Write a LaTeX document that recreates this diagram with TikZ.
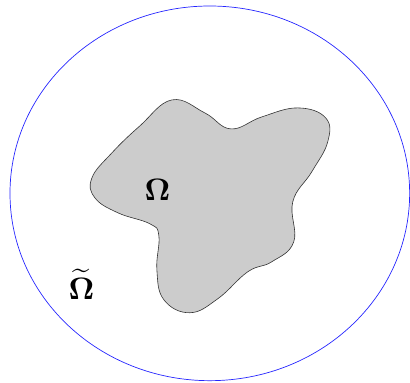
\documentclass[tikz,border=0pt]{standalone}
\usepackage{amsmath}
\usepackage{tikz}

\begin{document}
\begin{tikzpicture}[x=1pt, y=-1pt, line join=round]

  % ── outer domain: blue ellipse, centre (210,193.5) ──
  \draw[blue!85, line width=0.7pt] (210,193.5) ellipse (200 and 187.5);

  % ── inner domain: grey blob through measured outline points ──
  \draw[fill=black!20, draw=black!80, line width=0.6pt]
    plot[smooth cycle, tension=0.7] coordinates {
      (172,100) (205,113) (231,129) (262,117) (298,108) (326,118)
      (328,142) (312,172) (293,202) (294,242) (272,262) (248,272)
      (218,299) (190,313) (164,300) (157,270) (159,236) (150,224)
      (118,213) (95,198) (92,178) (112,153) (140,126)};

  % ── labels ──
  \node[inner sep=0pt, scale=3.1] (inner) at (157.5,190.5) {$\boldsymbol{\Omega}$};
  \node[inner sep=0pt, scale=3.1] (outer) at (81.5,285) {$\boldsymbol{\widetilde{\Omega}}$};

  % fix canvas
  \path[use as bounding box] (0,0) rectangle (410,383);
\end{tikzpicture}
\end{document}
